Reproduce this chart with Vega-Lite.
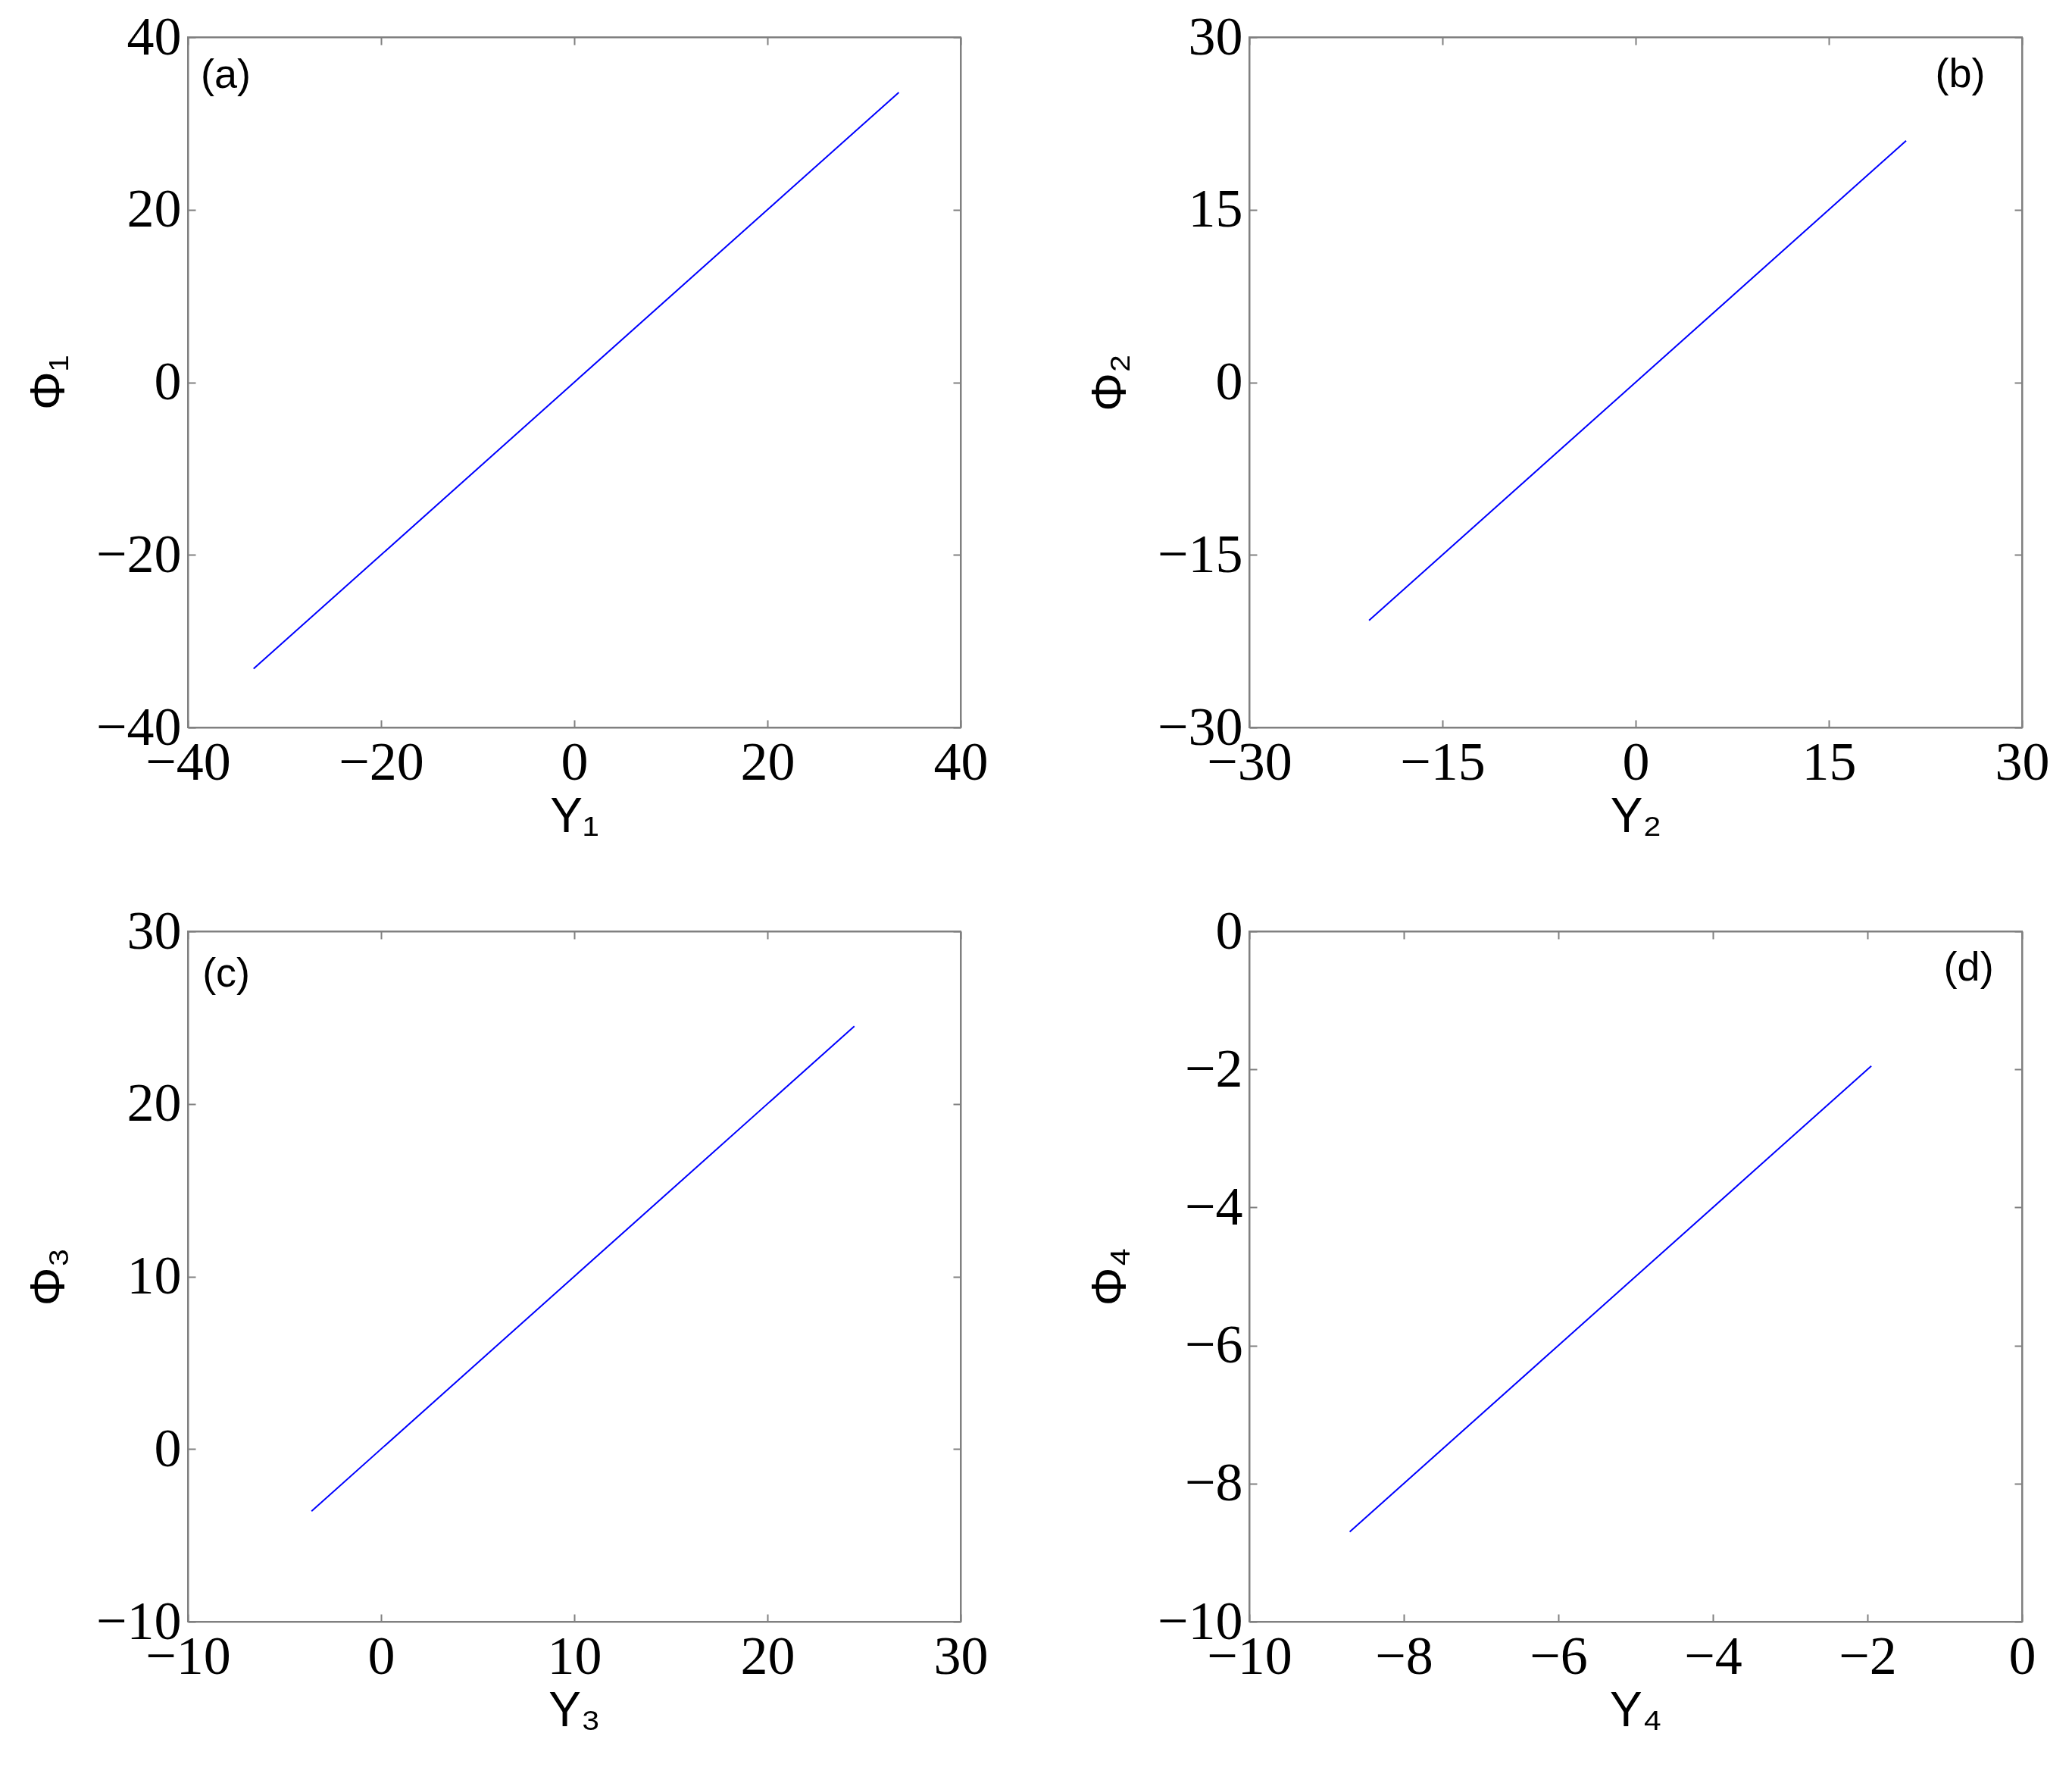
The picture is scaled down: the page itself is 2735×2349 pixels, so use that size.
{
  "$schema": "https://vega.github.io/schema/vega-lite/v6.json",
  "padding": {"left": 32, "top": 12, "right": 0, "bottom": 0},
  "background": "white",
  "datasets": {
    "lines": [
      {"panel": "a", "Y": -33.2, "Phi": -33.2},
      {"panel": "a", "Y": -20, "Phi": -20},
      {"panel": "a", "Y": 0, "Phi": 0},
      {"panel": "a", "Y": 20, "Phi": 20},
      {"panel": "a", "Y": 33.6, "Phi": 33.6},
      {"panel": "b", "Y": -20.7, "Phi": -20.7},
      {"panel": "b", "Y": 0, "Phi": 0},
      {"panel": "b", "Y": 21, "Phi": 21},
      {"panel": "c", "Y": -3.6, "Phi": -3.6},
      {"panel": "c", "Y": 10, "Phi": 10},
      {"panel": "c", "Y": 24.5, "Phi": 24.5},
      {"panel": "d", "Y": -8.7, "Phi": -8.7},
      {"panel": "d", "Y": -5, "Phi": -5},
      {"panel": "d", "Y": -1.95, "Phi": -1.95}
    ],
    "labels": [
      {"panel": "a", "lx": -38.67, "ly": 35.5, "t": "(a)"},
      {"panel": "b", "lx": 25.2, "ly": 26.7, "t": "(b)"},
      {"panel": "c", "lx": -9.25, "ly": 27.5, "t": "(c)"},
      {"panel": "d", "lx": -0.69, "ly": -0.54, "t": "(d)"}
    ]
  },
  "columns": 2,
  "bounds": "flush",
  "spacing": {"row": 269, "column": 381},
  "concat": [
    {
      "width": 1020, "height": 911,
      "layer": [
        {
          "data": {"name": "lines"},
          "transform": [{"filter": "datum.panel == 'a'"}],
          "mark": {"type": "line", "color": "#0000ff", "strokeWidth": 2},
          "encoding": {
            "x": {"field": "Y", "type": "quantitative", "scale": {"domain": [-40, 40], "nice": false, "zero": false}, "axis": {"orient": "bottom", "values": [-40, -20, 0, 20, 40], "title": "Y₁"}},
            "y": {"field": "Phi", "type": "quantitative", "scale": {"domain": [-40, 40], "nice": false, "zero": false}, "axis": {"orient": "left", "values": [-40, -20, 0, 20, 40], "title": "Φ₁"}},
            "order": {"field": "Y"}
          }
        },
        {
          "data": {"name": "lines"},
          "transform": [{"filter": "datum.panel == 'a'"}],
          "mark": {"type": "line", "opacity": 0},
          "encoding": {
            "x": {"field": "Y", "type": "quantitative", "axis": {"orient": "top", "values": [-40, -20, 0, 20, 40], "labels": false, "title": null}},
            "y": {"field": "Phi", "type": "quantitative", "axis": {"orient": "right", "values": [-40, -20, 0, 20, 40], "labels": false, "title": null}}
          }
        },
        {
          "data": {"name": "labels"},
          "transform": [{"filter": "datum.panel == 'a'"}],
          "mark": {"type": "text", "align": "left", "baseline": "middle", "font": "Liberation Sans", "fontSize": 54, "color": "black"},
          "encoding": {
            "x": {"field": "lx", "type": "quantitative", "axis": null},
            "y": {"field": "ly", "type": "quantitative", "axis": null},
            "text": {"field": "t"}
          }
        }
      ],
      "resolve": {"axis": {"x": "independent", "y": "independent"}}
    },
    {
      "width": 1020, "height": 911,
      "layer": [
        {
          "data": {"name": "lines"},
          "transform": [{"filter": "datum.panel == 'b'"}],
          "mark": {"type": "line", "color": "#0000ff", "strokeWidth": 2},
          "encoding": {
            "x": {"field": "Y", "type": "quantitative", "scale": {"domain": [-30, 30], "nice": false, "zero": false}, "axis": {"orient": "bottom", "values": [-30, -15, 0, 15, 30], "title": "Y₂"}},
            "y": {"field": "Phi", "type": "quantitative", "scale": {"domain": [-30, 30], "nice": false, "zero": false}, "axis": {"orient": "left", "values": [-30, -15, 0, 15, 30], "title": "Φ₂"}},
            "order": {"field": "Y"}
          }
        },
        {
          "data": {"name": "lines"},
          "transform": [{"filter": "datum.panel == 'b'"}],
          "mark": {"type": "line", "opacity": 0},
          "encoding": {
            "x": {"field": "Y", "type": "quantitative", "axis": {"orient": "top", "values": [-30, -15, 0, 15, 30], "labels": false, "title": null}},
            "y": {"field": "Phi", "type": "quantitative", "axis": {"orient": "right", "values": [-30, -15, 0, 15, 30], "labels": false, "title": null}}
          }
        },
        {
          "data": {"name": "labels"},
          "transform": [{"filter": "datum.panel == 'b'"}],
          "mark": {"type": "text", "align": "center", "baseline": "middle", "font": "Liberation Sans", "fontSize": 54, "color": "black"},
          "encoding": {
            "x": {"field": "lx", "type": "quantitative", "axis": null},
            "y": {"field": "ly", "type": "quantitative", "axis": null},
            "text": {"field": "t"}
          }
        }
      ],
      "resolve": {"axis": {"x": "independent", "y": "independent"}}
    },
    {
      "width": 1020, "height": 911,
      "layer": [
        {
          "data": {"name": "lines"},
          "transform": [{"filter": "datum.panel == 'c'"}],
          "mark": {"type": "line", "color": "#0000ff", "strokeWidth": 2},
          "encoding": {
            "x": {"field": "Y", "type": "quantitative", "scale": {"domain": [-10, 30], "nice": false, "zero": false}, "axis": {"orient": "bottom", "values": [-10, 0, 10, 20, 30], "title": "Y₃"}},
            "y": {"field": "Phi", "type": "quantitative", "scale": {"domain": [-10, 30], "nice": false, "zero": false}, "axis": {"orient": "left", "values": [-10, 0, 10, 20, 30], "title": "Φ₃"}},
            "order": {"field": "Y"}
          }
        },
        {
          "data": {"name": "lines"},
          "transform": [{"filter": "datum.panel == 'c'"}],
          "mark": {"type": "line", "opacity": 0},
          "encoding": {
            "x": {"field": "Y", "type": "quantitative", "axis": {"orient": "top", "values": [-10, 0, 10, 20, 30], "labels": false, "title": null}},
            "y": {"field": "Phi", "type": "quantitative", "axis": {"orient": "right", "values": [-10, 0, 10, 20, 30], "labels": false, "title": null}}
          }
        },
        {
          "data": {"name": "labels"},
          "transform": [{"filter": "datum.panel == 'c'"}],
          "mark": {"type": "text", "align": "left", "baseline": "middle", "font": "Liberation Sans", "fontSize": 54, "color": "black"},
          "encoding": {
            "x": {"field": "lx", "type": "quantitative", "axis": null},
            "y": {"field": "ly", "type": "quantitative", "axis": null},
            "text": {"field": "t"}
          }
        }
      ],
      "resolve": {"axis": {"x": "independent", "y": "independent"}}
    },
    {
      "width": 1020, "height": 911,
      "layer": [
        {
          "data": {"name": "lines"},
          "transform": [{"filter": "datum.panel == 'd'"}],
          "mark": {"type": "line", "color": "#0000ff", "strokeWidth": 2},
          "encoding": {
            "x": {"field": "Y", "type": "quantitative", "scale": {"domain": [-10, 0], "nice": false, "zero": false}, "axis": {"orient": "bottom", "values": [-10, -8, -6, -4, -2, 0], "title": "Y₄"}},
            "y": {"field": "Phi", "type": "quantitative", "scale": {"domain": [-10, 0], "nice": false, "zero": false}, "axis": {"orient": "left", "values": [-10, -8, -6, -4, -2, 0], "title": "Φ₄"}},
            "order": {"field": "Y"}
          }
        },
        {
          "data": {"name": "lines"},
          "transform": [{"filter": "datum.panel == 'd'"}],
          "mark": {"type": "line", "opacity": 0},
          "encoding": {
            "x": {"field": "Y", "type": "quantitative", "axis": {"orient": "top", "values": [-10, -8, -6, -4, -2, 0], "labels": false, "title": null}},
            "y": {"field": "Phi", "type": "quantitative", "axis": {"orient": "right", "values": [-10, -8, -6, -4, -2, 0], "labels": false, "title": null}}
          }
        },
        {
          "data": {"name": "labels"},
          "transform": [{"filter": "datum.panel == 'd'"}],
          "mark": {"type": "text", "align": "center", "baseline": "middle", "font": "Liberation Sans", "fontSize": 54, "color": "black"},
          "encoding": {
            "x": {"field": "lx", "type": "quantitative", "axis": null},
            "y": {"field": "ly", "type": "quantitative", "axis": null},
            "text": {"field": "t"}
          }
        }
      ],
      "resolve": {"axis": {"x": "independent", "y": "independent"}}
    }
  ],
  "config": {
    "view": {"stroke": "#808080", "strokeWidth": 2},
    "axis": {
      "grid": false,
      "labelFont": "Liberation Serif",
      "labelFontSize": 72,
      "labelColor": "black",
      "labelFlush": false,
      "labelOverlap": false,
      "titleFont": "Liberation Sans",
      "titleFontSize": 64,
      "titleFontWeight": "normal",
      "titleColor": "black",
      "domainColor": "#808080",
      "domainWidth": 2,
      "tickColor": "#808080",
      "tickWidth": 2,
      "tickSize": -10
    },
    "axisX": {"labelPadding": 21, "titlePadding": 4},
    "axisY": {"labelPadding": 19, "titlePadding": 29}
  }
}
